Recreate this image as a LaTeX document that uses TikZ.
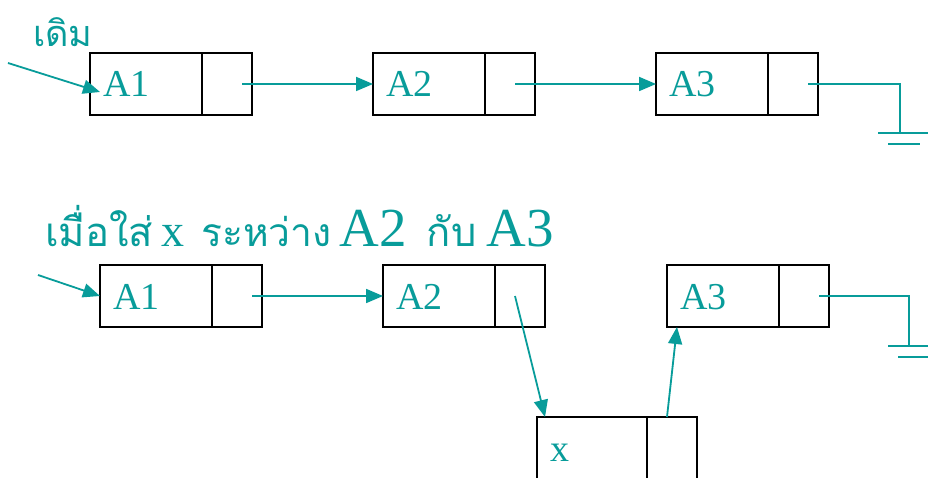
\documentclass[tikz,border=0pt]{standalone}
\usepackage{fontspec}
\setmainfont{Liberation Serif}
\newfontfamily\thaifont[Script=Thai]{Loma}
\usetikzlibrary{arrows.meta,positioning,calc}
\definecolor{sea}{HTML}{089C9A}

\tikzset{
  datafield/.style={draw=black,line width=2pt,minimum width=112pt,
    minimum height=62pt,text width=86pt,inner xsep=13pt,inner ysep=0pt,
    text height=26pt,text depth=0pt,align=left,outer sep=0pt,text=sea,
    font=\fontsize{38}{38}\selectfont},
  ptrfield/.style={draw=black,line width=2pt,minimum width=50pt,
    minimum height=62pt,inner sep=0pt,outer sep=0pt},
  link/.style={sea,line width=1.8pt,-{Triangle[length=17pt,width=14pt]}},
  wire/.style={sea,line width=1.8pt},
}

\begin{document}
\begin{tikzpicture}[x=1pt,y=-1pt]
  \clip (0,0) rectangle (928,478);
  % before: A1 -> A2 -> A3 -> ground
  \node[font=\thaifont\fontsize{36}{36}\selectfont,text=sea,
        anchor=base west,inner sep=0pt] (before) at (33,47) {เดิม};
  \node[datafield] (a1) at (146,84) {A1};
  \node[ptrfield,right=0pt of a1] (a1p) {};
  \node[datafield] (a2) at (429,84) {A2};
  \node[ptrfield,right=0pt of a2] (a2p) {};
  \node[datafield] (a3) at (712,84) {A3};
  \node[ptrfield,right=0pt of a3] (a3p) {};
  \coordinate (head1) at (8,63);
  \coordinate (gnd1) at (900,133);
  \draw[link] (head1) -- ($(a1.west)+(10,8)$);
  \draw[link] ([xshift=15pt]a1p.center) -- (a2.west);
  \draw[link] ([xshift=5pt]a2p.center) -- (a3.west);
  \draw[wire] ([xshift=-10pt]a3p.east) -| (gnd1);
  \draw[wire] ($(gnd1)+(-22,0)$) -- ($(gnd1)+(30,0)$);
  \draw[wire] ($(gnd1)+(-12,11)$) -- ($(gnd1)+(20,11)$);

  % after inserting x between A2 and A3
  \node[text=sea,anchor=base west,inner sep=0pt] (after) at (45,247)
    {{\thaifont\fontsize{40}{40}\selectfont เมื่อใส่}\hspace{8pt}%
     {\fontsize{46}{46}\selectfont x}\hspace{17pt}%
     {\thaifont\fontsize{39}{39}\selectfont ระหว่าง}\hspace{8pt}%
     {\fontsize{55}{55}\selectfont A2}\hspace{20pt}%
     {\thaifont\fontsize{40}{40}\selectfont กับ}\hspace{10pt}%
     {\fontsize{55}{55}\selectfont A3}};
  \node[datafield] (b1) at (156,296) {A1};
  \node[ptrfield,right=0pt of b1] (b1p) {};
  \node[datafield] (b2) at (439,296) {A2};
  \node[ptrfield,right=0pt of b2] (b2p) {};
  \node[datafield] (b3) at (723,296) {A3};
  \node[ptrfield,right=0pt of b3] (b3p) {};
  \node[datafield,minimum width=110pt,text width=84pt] (xd) at (592,448) {x};
  \node[ptrfield,right=0pt of xd] (xp) {};
  \coordinate (head2) at (38,275);
  \coordinate (gnd2) at (909,346);
  \draw[link] (head2) -- (b1.west);
  \draw[link] ([xshift=15pt]b1p.center) -- (b2.west);
  \draw[link] ([xshift=-5pt]b2p.center) -- ([xshift=8pt]xd.north west);
  \draw[link] ([xshift=20pt]xp.north west) -- ([xshift=10pt]b3.south west);
  \draw[wire] ([xshift=-10pt]b3p.east) -| (gnd2);
  \draw[wire] ($(gnd2)+(-21,0)$) -- ($(gnd2)+(30,0)$);
  \draw[wire] ($(gnd2)+(-11,11)$) -- ($(gnd2)+(30,11)$);
\end{tikzpicture}
\end{document}
